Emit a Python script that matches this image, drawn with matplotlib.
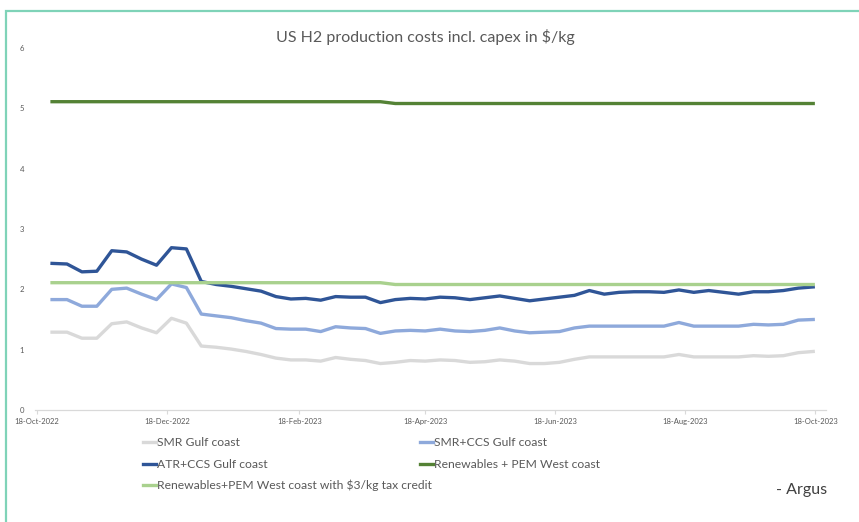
import matplotlib
matplotlib.use("Agg")
import matplotlib.pyplot as plt
import matplotlib.dates as mdates
from matplotlib.lines import Line2D
from matplotlib.patches import Rectangle
import pandas as pd

plt.rcParams['font.family'] = ['Lato', 'DejaVu Sans']

# Weekly assessment dates
dates = pd.date_range('2022-10-25', periods=52, freq='7D')

smr_gulf = [1.29, 1.29, 1.19, 1.19, 1.43, 1.46, 1.36, 1.28, 1.52, 1.44,
            1.06, 1.04, 1.01, 0.97, 0.92, 0.86, 0.83, 0.83, 0.81, 0.87,
            0.84, 0.82, 0.77, 0.79, 0.82, 0.81, 0.83, 0.82, 0.79, 0.80,
            0.83, 0.81, 0.77, 0.77, 0.79, 0.84, 0.88, 0.88, 0.88, 0.88,
            0.88, 0.88, 0.92, 0.88, 0.88, 0.88, 0.88, 0.90, 0.89, 0.90,
            0.95, 0.97]
smr_ccs_gulf = [1.83, 1.83, 1.72, 1.72, 2.00, 2.02, 1.92, 1.83, 2.09, 2.03,
                1.59, 1.56, 1.53, 1.48, 1.44, 1.35, 1.34, 1.34, 1.30, 1.38,
                1.36, 1.35, 1.27, 1.31, 1.32, 1.31, 1.34, 1.31, 1.30, 1.32,
                1.36, 1.31, 1.28, 1.29, 1.30, 1.36, 1.39, 1.39, 1.39, 1.39,
                1.39, 1.39, 1.45, 1.39, 1.39, 1.39, 1.39, 1.42, 1.41, 1.42,
                1.49, 1.50]
atr_ccs_gulf = [2.43, 2.42, 2.29, 2.30, 2.64, 2.62, 2.50, 2.40, 2.69, 2.67,
                2.13, 2.08, 2.05, 2.01, 1.97, 1.88, 1.84, 1.85, 1.82, 1.88,
                1.87, 1.87, 1.78, 1.83, 1.85, 1.84, 1.87, 1.86, 1.83, 1.86,
                1.89, 1.85, 1.81, 1.84, 1.87, 1.90, 1.98, 1.92, 1.95, 1.96,
                1.96, 1.95, 1.99, 1.95, 1.98, 1.95, 1.92, 1.96, 1.96, 1.98,
                2.02, 2.04]
pem_west = [5.11] * 23 + [5.08] * 29
pem_west_credit = [2.11] * 23 + [2.08] * 29

labels = ['SMR Gulf coast', 'SMR+CCS Gulf coast', 'ATR+CCS Gulf coast',
          'Renewables + PEM West coast',
          'Renewables+PEM West coast with $3/kg tax credit']
colors = ['#D9D9D9', '#8EA9DB', '#2F5597', '#548235', '#A9D18E']
series = [smr_gulf, smr_ccs_gulf, atr_ccs_gulf, pem_west, pem_west_credit]

tick_dates = pd.to_datetime(['2022-10-18', '2022-12-18', '2023-02-18', '2023-04-18',
                             '2023-06-18', '2023-08-18', '2023-10-18'])

W, H = 859, 522
fig = plt.figure(figsize=(W / 100, H / 100), dpi=100)
fig.patch.set_facecolor('white')

# Teal frame around the chart
fig.patches.append(Rectangle((6 / W, -0.1), 1.2, 1 - 11 / H + 0.1,
                             transform=fig.transFigure, fill=False,
                             edgecolor='#7FD3B8', linewidth=1.6))

ax = fig.add_axes([35 / W, 1 - 410 / H, 791 / W, 362 / H])
for vals, col in zip(series, colors):
    ax.plot(dates, vals, color=col, linewidth=2.4, solid_joinstyle='round')

ax.set_xlim(pd.Timestamp('2022-10-17'), pd.Timestamp('2023-10-23'))
ax.set_ylim(0, 6)
ax.set_xticks(tick_dates)
ax.xaxis.set_major_formatter(mdates.DateFormatter('%d-%b-%Y'))
ax.set_yticks(range(0, 7))
for s in ['top', 'right', 'left']:
    ax.spines[s].set_visible(False)
ax.spines['bottom'].set_color('#D9D9D9')
ax.spines['bottom'].set_linewidth(0.9)
ax.tick_params(axis='x', length=3, color='#D9D9D9', labelsize=5.5,
               labelcolor='#595959', pad=2.5)
ax.tick_params(axis='y', length=0, labelsize=5.6, labelcolor='#595959', pad=8)

fig.text(425 / W, 1 - 37 / H, 'US H2 production costs incl. capex in $/kg',
         ha='center', va='center', fontsize=11.5, color='#595959')

# Legend laid out in two columns below the axis
legend_pos = [(143, 442), (420, 442), (143, 464), (420, 464), (143, 485)]
for (lx, ly), lab, col in zip(legend_pos, labels, colors):
    fig.add_artist(Line2D([lx / W, (lx + 13) / W], [1 - ly / H, 1 - ly / H],
                          transform=fig.transFigure, color=col, linewidth=2.4))
    fig.text((lx + 14) / W, 1 - ly / H, lab, ha='left', va='center',
             fontsize=8.7, color='#595959')

fig.text(827 / W, 1 - 490 / H, '- Argus', ha='right', va='center',
         fontsize=11.5, color='#404040')

fig.savefig('out.png', dpi=100, facecolor='white')
